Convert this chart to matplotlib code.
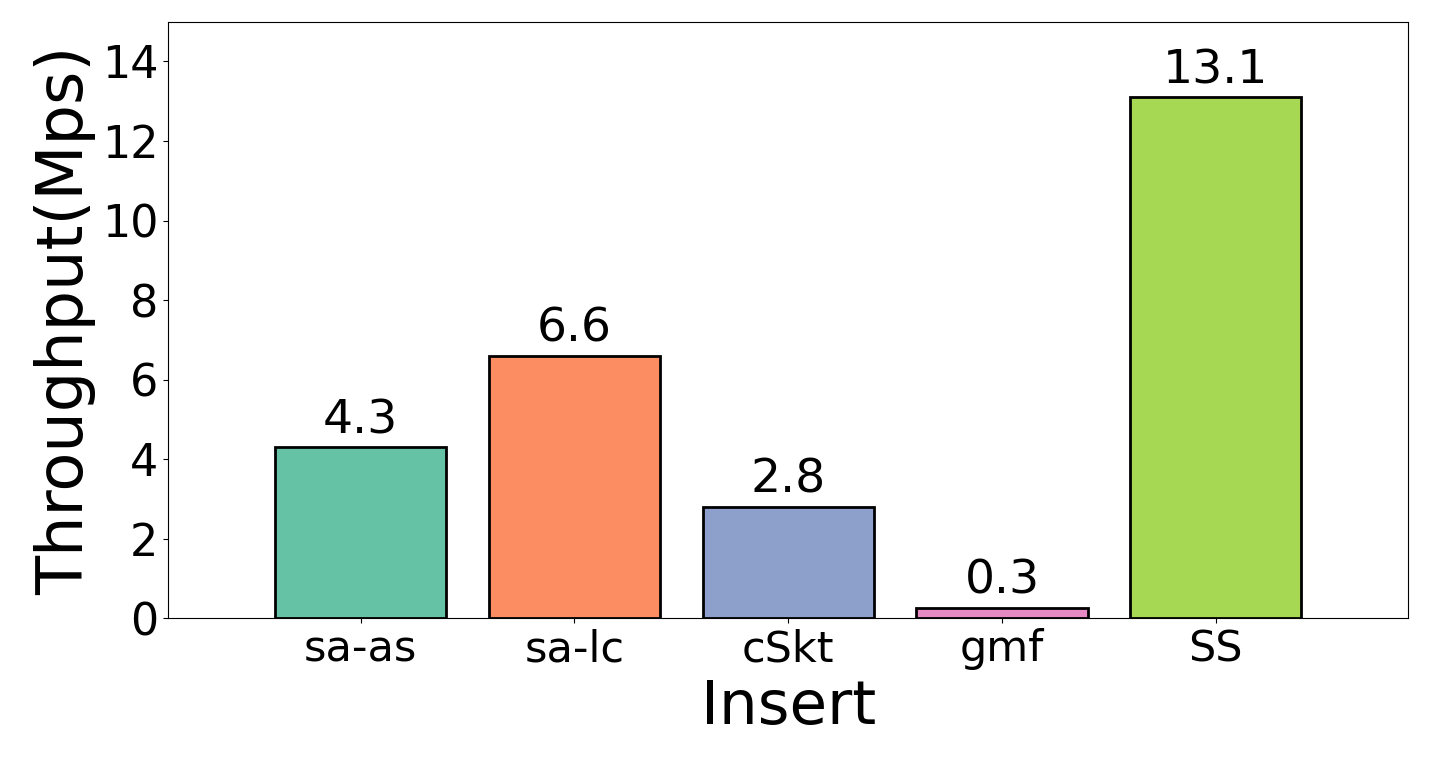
import matplotlib
matplotlib.use("Agg")
import matplotlib.pyplot as plt

categories = ["sa-as", "sa-lc", "cSkt", "gmf", "SS"]
throughput = [4.3, 6.6, 2.8, 0.27, 13.1]
colors = ["#66c2a5", "#fc8d62", "#8da0cb", "#e78ac3", "#a6d854"]

fig, ax = plt.subplots(figsize=(14.37, 7.71), dpi=100)
fig.subplots_adjust(left=0.117, right=0.98, top=0.972, bottom=0.198)

bars = ax.bar(categories, throughput, color=colors, edgecolor="black", linewidth=2, width=0.8)
for b, v in zip(bars, throughput):
    ax.text(b.get_x() + b.get_width() / 2, v + 0.1, f"{v:.1f}",
            ha="center", va="bottom", fontsize=34)

ax.set_xlim(-0.9, 4.9)
ax.set_ylim(0, 15)
ax.set_yticks(range(0, 15, 2))
ax.tick_params(axis="y", labelsize=32)
ax.tick_params(axis="x", labelsize=31)
ax.set_xlabel("Insert", fontsize=44, labelpad=6)
ax.set_ylabel("Throughput(Mps)", fontsize=46, labelpad=4)

fig.savefig("out.png")
